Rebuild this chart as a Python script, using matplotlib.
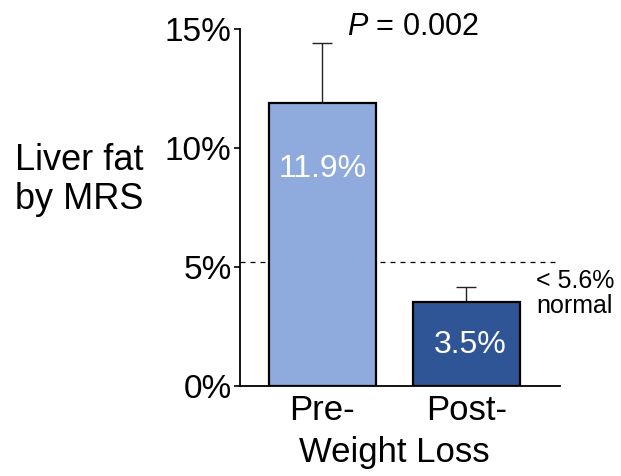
import matplotlib
matplotlib.use("Agg")
import matplotlib.pyplot as plt

plt.rcParams['font.family'] = ['Liberation Sans', 'DejaVu Sans']
plt.rcParams['mathtext.fontset'] = 'custom'
plt.rcParams['mathtext.rm'] = 'Liberation Sans'
plt.rcParams['mathtext.it'] = 'Liberation Sans:italic'

# Data
groups = ["Pre-", "Post-"]
liver_fat = [11.9, 3.5]          # mean liver fat (%)
upper_err = [2.52, 0.64]         # upper error (%)
bar_colors = ["#8FAADC", "#2F5597"]
value_labels = ["11.9%", "3.5%"]
normal_cutoff = 5.2
y_ticks = [0, 5, 10, 15]
y_tick_labels = ["0%", "5%", "10%", "15%"]

W, H = 621, 476
fig = plt.figure(figsize=(W / 100, H / 100), dpi=100)
ax = fig.add_axes([240 / W, 1 - 385.5 / H, 320 / W, (385.5 - 29) / H])

x = list(range(len(groups)))
ax.axhline(normal_cutoff, xmin=0, xmax=0.994, color="black", lw=0.9,
           ls=(0, (4, 4)), zorder=1)
ax.bar(x, liver_fat, width=0.744, color=bar_colors, edgecolor="black",
       linewidth=1.6, zorder=3)
ax.errorbar(x, liver_fat, yerr=[[0, 0], upper_err], fmt="none",
            ecolor="#222222", elinewidth=1.0, capsize=7, capthick=1.0, zorder=2)

ax.set_xlim(-0.573, 1.652)
ax.set_ylim(0, 15)
ax.set_yticks(y_ticks)
ax.set_yticklabels(y_tick_labels, fontsize=24)
ax.tick_params(axis="y", length=4, width=1.2, pad=2, direction="out")
ax.set_xticks(x)
ax.set_xticklabels(groups, fontsize=25)
ax.tick_params(axis="x", length=0, pad=6)
for s in ["top", "right"]:
    ax.spines[s].set_visible(False)
for s in ["left", "bottom"]:
    ax.spines[s].set_linewidth(1.3)

# value labels inside bars
ax.text(0.0, 9.1, value_labels[0], color="white", fontsize=23,
        ha="center", va="center", zorder=4)
ax.text(1.03, 1.7, value_labels[1], color="white", fontsize=23,
        ha="center", va="center", zorder=4)

# annotations
fig.text(413 / W, 1 - 35 / H, r"$P$ = 0.002", fontsize=22,
         ha="center", va="baseline")
fig.text(536 / W, 1 - 313 / H, "< 5.6%\nnormal", fontsize=18,
         ha="left", va="baseline", linespacing=1.05)
fig.text(15 / W, 1 - 180 / H, "Liver fat\nby MRS", fontsize=26,
         ha="left", va="center", linespacing=1.15)
fig.text(394 / W, 1 - 462 / H, "Weight Loss", fontsize=25,
         ha="center", va="baseline")

fig.savefig("out.png", dpi=100)
